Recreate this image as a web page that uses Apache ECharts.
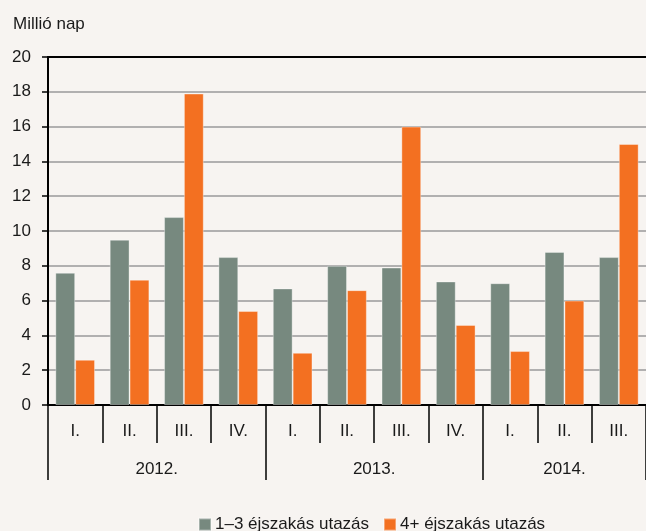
<!DOCTYPE html>
<html>
<head>
<meta charset="utf-8">
<script src="https://cdn.jsdelivr.net/npm/echarts@6/dist/echarts.min.js"></script>
<style>
  html, body { margin: 0; padding: 0; background: #f7f4f1; }
  #chart { width: 646px; height: 531px; }
</style>
</head>
<body>
<div id="chart"></div>
<script>
// negyedévek és évek
const quarters = ['I.', 'II.', 'III.', 'IV.', 'I.', 'II.', 'III.', 'IV.', 'I.', 'II.', 'III.']
const years = ['2012.', '2013.', '2014.']
const yearSpans = [4, 4, 3]

// millió nap
const short = [7.6, 9.5, 10.8, 8.5, 6.7, 8.0, 7.9, 7.1, 7.0, 8.8, 8.5]
const long = [2.6, 7.2, 17.9, 5.4, 3.0, 6.6, 16.0, 4.6, 3.1, 6.0, 15.0]

const seriesNames = ['1–3 éjszakás utazás', '4+ éjszakás utazás']

const font = "'Liberation Sans', Arial, sans-serif"
const textColor = '#1a1a1a'

// évek helye a tengelyen (határok és közepek)
const yearBounds = [0]
yearSpans.forEach(s => yearBounds.push(yearBounds[yearBounds.length - 1] + s))
const yearCenters = yearSpans.map((s, i) => yearBounds[i] + s / 2)

const chart = echarts.init(document.getElementById('chart'))

chart.setOption({
  backgroundColor: '#f7f4f1',
  textStyle: { fontFamily: font },
  title: {
    text: 'Millió nap',
    left: 8,
    top: 11,
    textStyle: { fontFamily: font, fontSize: 17, fontWeight: 'normal', color: textColor }
  },
  legend: {
    data: seriesNames,
    left: 193,
    top: 511,
    icon: 'rect',
    itemWidth: 12,
    itemHeight: 12,
    itemGap: 14,
    textStyle: { fontFamily: font, fontSize: 17, color: textColor, padding: [0, 0, 0, -1] }
  },
  grid: { left: 48, top: 57, width: 602, height: 348, containLabel: false },
  xAxis: [
    {
      type: 'category',
      position: 'bottom',
      data: quarters,
      axisLine: { show: true, lineStyle: { color: '#000', width: 2 } },
      axisTick: { show: true, alignWithLabel: false, length: 38, interval: 0, lineStyle: { color: '#000', width: 1.5 } },
      axisLabel: { interval: 0, margin: 18, fontSize: 17, color: textColor, fontFamily: font },
      splitLine: { show: false }
    },
    {
      type: 'value',
      position: 'bottom',
      min: 0,
      max: quarters.length,
      axisLine: { show: false },
      axisTick: { show: true, customValues: yearBounds, length: 75, lineStyle: { color: '#000', width: 1.5 } },
      axisLabel: {
        customValues: yearCenters,
        margin: 56,
        fontSize: 17,
        color: textColor,
        fontFamily: font,
        formatter: v => {
          const i = yearCenters.indexOf(v)
          return i >= 0 ? years[i] : ''
        }
      },
      splitLine: { show: false }
    },
    {
      type: 'value',
      position: 'top',
      min: 0,
      max: quarters.length,
      axisLine: { show: true, lineStyle: { color: '#000', width: 2 } },
      axisTick: { show: false },
      axisLabel: { show: false },
      splitLine: { show: false }
    }
  ],
  yAxis: {
    type: 'value',
    min: 0,
    max: 20,
    interval: 2,
    axisLine: { show: true, lineStyle: { color: '#000', width: 2 } },
    axisTick: { show: true, length: 6, lineStyle: { color: '#000', width: 1.5 } },
    axisLabel: { margin: 17, fontSize: 17, color: textColor, fontFamily: font },
    splitLine: { lineStyle: { color: '#9a9a9a', width: 1.5 } }
  },
  series: [
    {
      name: seriesNames[0],
      type: 'bar',
      data: short,
      barGap: '0%',
      barCategoryGap: '27%',
      itemStyle: { color: '#77897f', borderColor: 'rgba(255,255,255,0.35)', borderWidth: 1 }
    },
    {
      name: seriesNames[1],
      type: 'bar',
      data: long,
      barGap: '0%',
      barCategoryGap: '27%',
      itemStyle: { color: '#f37021', borderColor: 'rgba(255,255,255,0.35)', borderWidth: 1 }
    }
  ]
})
</script>
</body>
</html>
